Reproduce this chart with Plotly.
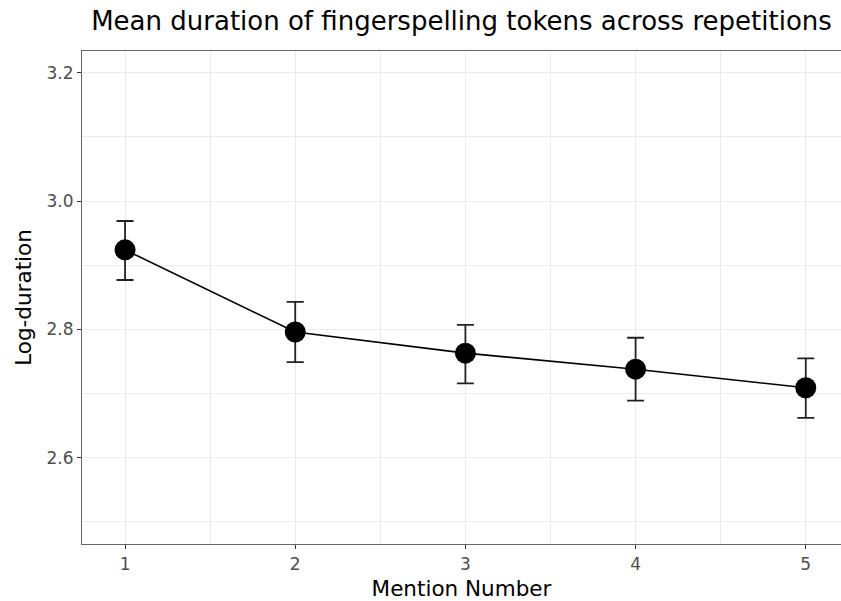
import plotly.graph_objects as go

# Mean log-duration of fingerspelled tokens per mention, with CI bounds
mention = [1, 2, 3, 4, 5]
mean_logdur = [2.924, 2.796, 2.763, 2.738, 2.709]
ci_lower = [2.877, 2.749, 2.716, 2.689, 2.662]
ci_upper = [2.969, 2.843, 2.807, 2.787, 2.755]
y_ticks = [2.6, 2.8, 3.0, 3.2]
x_ticks = [1, 2, 3, 4, 5]

err_plus = [u - m for u, m in zip(ci_upper, mean_logdur)]
err_minus = [m - l for m, l in zip(mean_logdur, ci_lower)]

FONT = "DejaVu Sans, Liberation Sans, Arial, sans-serif"

fig = go.Figure()

# connecting line
fig.add_trace(go.Scatter(
    x=mention, y=mean_logdur, mode="lines",
    line=dict(color="black", width=1.6),
    hoverinfo="skip", showlegend=False,
))

# error bars
fig.add_trace(go.Scatter(
    x=mention, y=mean_logdur, mode="markers",
    marker=dict(size=1, color="rgba(0,0,0,0)"),
    error_y=dict(type="data", symmetric=False, array=err_plus,
                 arrayminus=err_minus, color="#222222",
                 thickness=1.8, width=8.5),
    showlegend=False,
))

# mean points
fig.add_trace(go.Scatter(
    x=mention, y=mean_logdur, mode="markers",
    marker=dict(size=21, color="black"),
    showlegend=False,
))

grid = "#ebebeb"
tick_font = dict(family=FONT, size=17, color="#4d4d4d")
title_font = dict(family=FONT, size=21.5, color="black")

fig.update_layout(
    width=841, height=601,
    margin=dict(l=82, r=0, t=51, b=57),
    paper_bgcolor="white", plot_bgcolor="white",
    title=dict(
        text="Mean duration of fingerspelling tokens across repetitions",
        x=0.5, xref="paper", xanchor="center",
        y=1 - 21 / 601, yref="container", yanchor="middle",
        font=dict(family=FONT, size=26, color="black"),
    ),
    xaxis=dict(
        range=[0.747, 5.207],
        tickvals=x_ticks, ticktext=[str(v) for v in x_ticks],
        showgrid=True, gridcolor=grid, gridwidth=1.3,
        minor=dict(dtick=0.5, tick0=0.5, showgrid=True, gridcolor=grid, gridwidth=0.8),
        ticks="outside", ticklen=4, tickwidth=1.2, tickcolor="#333333",
        showline=True, linecolor="#666666", linewidth=1.2, mirror=True,
        zeroline=False, tickfont=tick_font,
        title=dict(text="Mention Number", font=title_font, standoff=11),
    ),
    yaxis=dict(
        range=[2.4655, 3.234],
        tickvals=y_ticks, ticktext=[f"{v:.1f}" for v in y_ticks],
        showgrid=True, gridcolor=grid, gridwidth=1.3,
        minor=dict(dtick=0.1, tick0=2.5, showgrid=True, gridcolor=grid, gridwidth=0.8),
        ticks="outside", ticklen=4, tickwidth=1.2, tickcolor="#333333",
        showline=True, linecolor="#666666", linewidth=1.2, mirror=False,
        zeroline=False, tickfont=tick_font,
        title=dict(text="Log-duration", font=title_font, standoff=8),
    ),
)

fig.write_html("out.html")
